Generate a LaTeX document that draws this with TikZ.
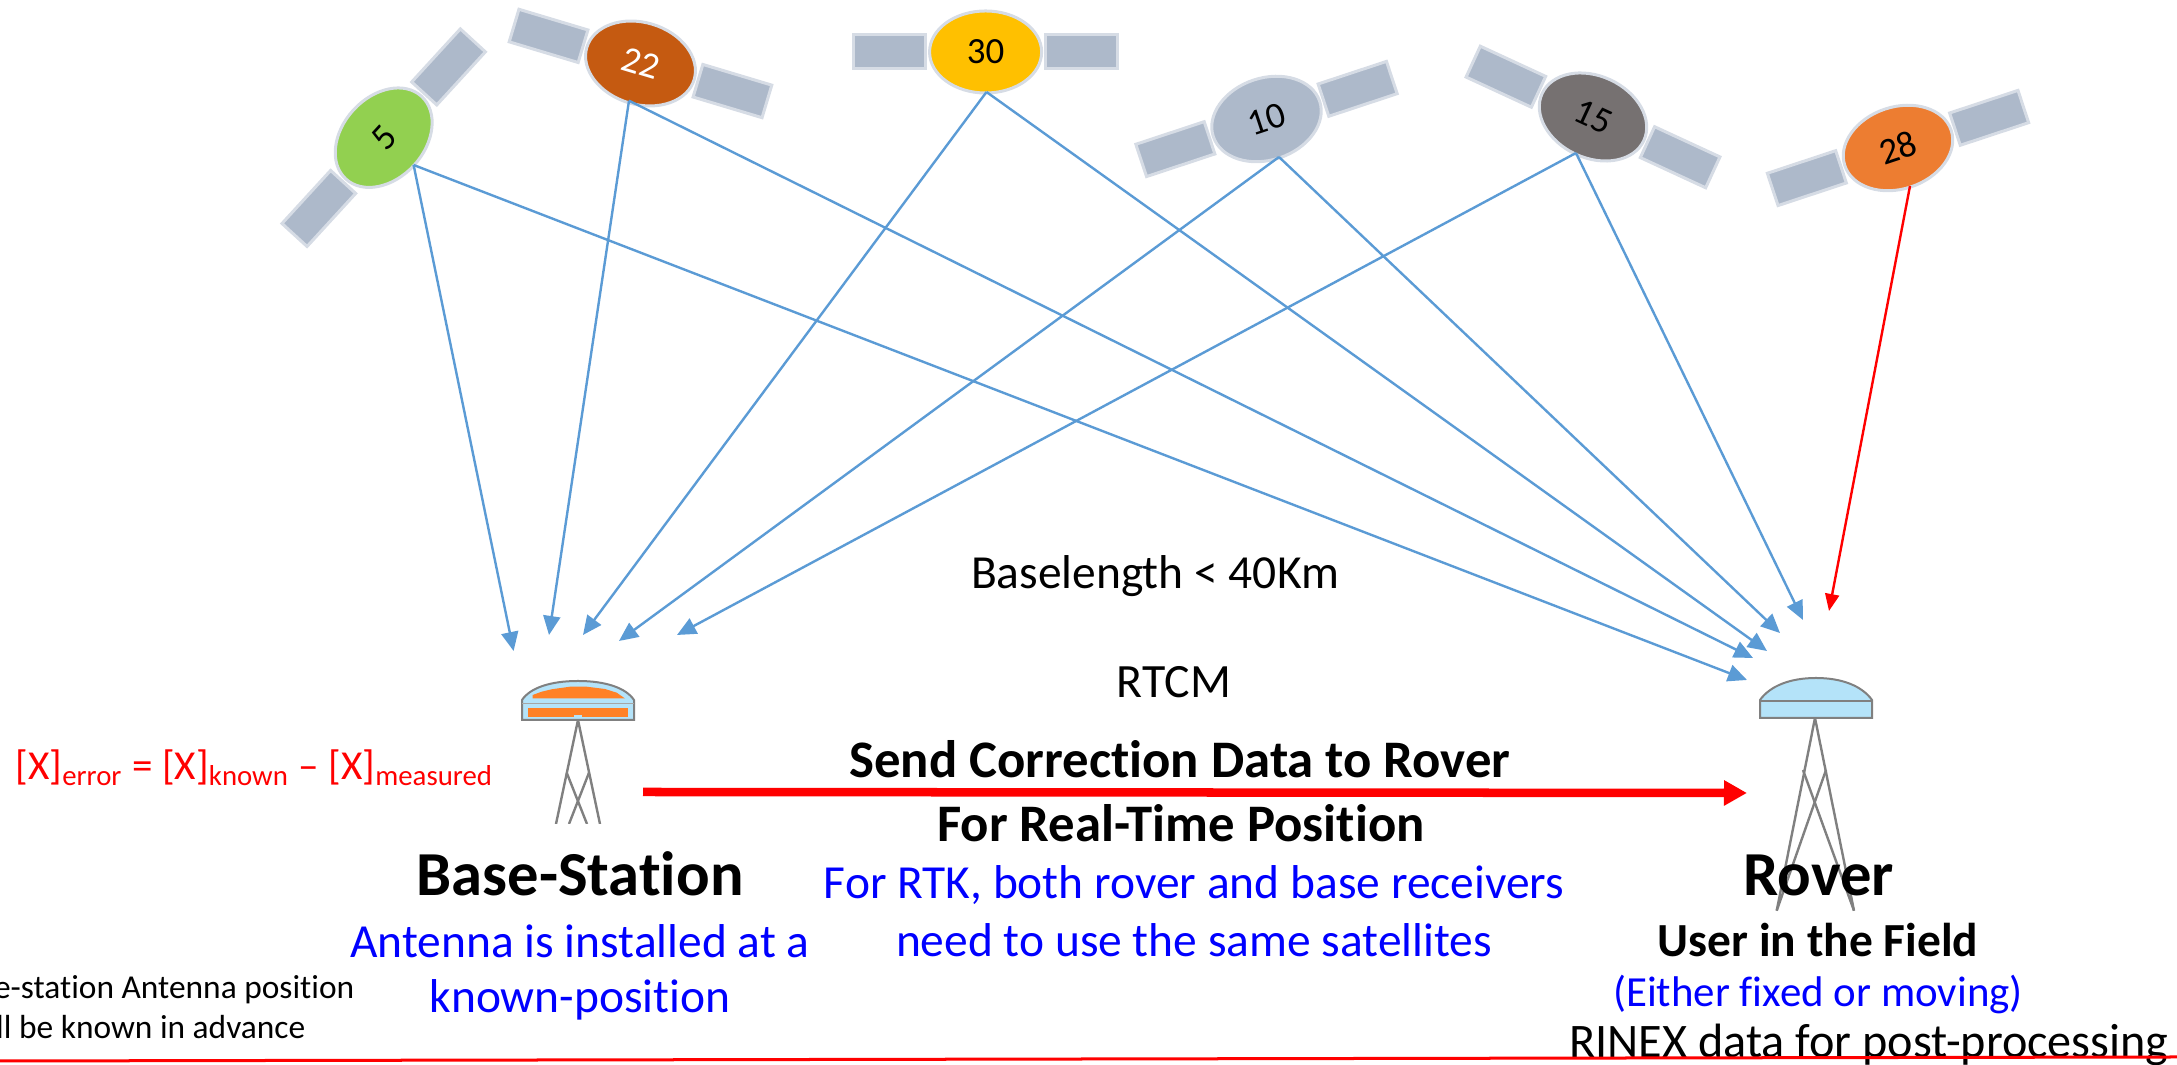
\documentclass[tikz,border=0pt]{standalone}
\usepackage{fontspec}
\setmainfont{Carlito}[Ligatures=NoCommon]
\usetikzlibrary{arrows.meta,shapes.geometric}
\definecolor{panelfill}{HTML}{ADB9CA}
\definecolor{paneledge}{HTML}{D6DCE5}
\definecolor{sigblue}{HTML}{5B9BD5}
\definecolor{domeblue}{HTML}{B4E3F9}
\definecolor{domeorange}{HTML}{FF8126}
\definecolor{legray}{HTML}{808080}
\definecolor{satgreen}{HTML}{92D050}
\definecolor{satrust}{HTML}{C55A11}
\definecolor{satgold}{HTML}{FFC000}
\definecolor{satgrey}{HTML}{767171}
\definecolor{satorange}{HTML}{ED7D31}
\tikzset{
  panel/.style={fill=panelfill,draw=paneledge,line width=.03cm},
  body/.style={ellipse,draw=paneledge,line width=.03cm,minimum width=1.12cm,minimum height=.82cm,inner sep=0pt,font=\fontsize{10.5}{12}\selectfont},
  sig/.style={sigblue,line width=.024cm,-{Triangle[length=.19cm,width=.17cm]}},
  redsig/.style={red,line width=.024cm,-{Triangle[length=.17cm,width=.14cm]}},
  senddata/.style={red,line width=.085cm,-{Triangle[length=.23cm,width=.24cm]}},
  leg/.style={legray,line width=.024cm},
  dome/.style={draw=legray,line width=.02cm,fill=domeblue},
  bigbold/.style={font=\fontsize{17.8}{20}\selectfont\bfseries},
  midbold/.style={font=\fontsize{15}{17}\selectfont\bfseries},
  bluetxt/.style={blue,font=\fontsize{13.5}{15}\selectfont},
  plain/.style={font=\fontsize{13.5}{15}\selectfont},
  small/.style={font=\fontsize{9.5}{11}\selectfont,inner sep=0pt},
}
\newcommand{\satellite}[7]{%
  \begin{scope}[shift={(#2,#3)},rotate=#4]
    \draw[panel] (-132,-17) rectangle (-60,17);
    \draw[panel] (60,-17) rectangle (132,17);
  \end{scope}
  \node[body,fill=#5,text=#7,rotate=#4] (#1) at (#2,#3) {#6};
}
\begin{document}
\begin{tikzpicture}[x=.01cm,y=-.01cm]
\useasboundingbox (0,0) rectangle (2177,1065);

% satellites
\satellite{s5}{383.7}{137.7}{47.5}{satgreen}{5}{black}
\satellite{s22}{640.5}{63.5}{-16.7}{satrust}{22}{white}
\satellite{s30}{985.6}{52}{0}{satgold}{30}{black}
\satellite{s10}{1266.5}{119}{18.3}{panelfill}{10}{black}
\satellite{s15}{1593}{117}{-24.8}{satgrey}{15}{black}
\satellite{s28}{1898}{148}{18.3}{satorange}{28}{black}

% connector ends
\coordinate (o5) at (413.6,165);
\coordinate (o22) at (629,100.7);
\coordinate (o30) at (986.5,92);
\coordinate (o10) at (1279,157);
\coordinate (o15) at (1576,153);
\coordinate (o28) at (1910,186);
\coordinate (b5) at (513.6,651);
\coordinate (b22) at (549,635);
\coordinate (b30) at (583,635);
\coordinate (b10) at (619,641);
\coordinate (b15) at (677,635);
\coordinate (r5) at (1747,680);
\coordinate (r22) at (1753,658);
\coordinate (r30) at (1767,651);
\coordinate (r10) at (1780,633);
\coordinate (r15) at (1803,620);
\coordinate (r28) at (1829,611);
\coordinate (sendA) at (643,792);
\coordinate (sendB) at (1747,793);
\coordinate (lineA) at (0,1061);
\coordinate (lineB) at (2177,1057);

\foreach \s in {5,22,30,10,15}{
  \draw[sig] (o\s) -- (b\s);
  \draw[sig] (o\s) -- (r\s);
}
\draw[redsig] (o28) -- (r28);

% base antenna
\begin{scope}
  \clip (500,670) rectangle (660,824);
  \foreach \a/\b in {578/556,578/600}{\draw[leg] (\a,720) -- (\b,824);}
  \draw[leg] (566.7,772.7) -- (587,824);
  \draw[leg] (589,772.7) -- (569,824);
\end{scope}
\draw[dome] (522,720) -- (522,700) .. controls (530,688) and (550,681) .. (578,681) .. controls (606,681) and (626,688) .. (634,700) -- (634,720) -- cycle;
\fill[domeorange] (532.7,698.5) -- (532.7,695) -- (541.7,691.7) -- (551.7,689.3) -- (570,686.7) -- (586.7,686.7) -- (605,689) -- (616.7,692.7) -- (625,698.5) -- cycle;
\fill[domeorange] (528,708) rectangle (628,717);
\fill[domeblue] (574,715) rectangle (582,718);
\draw[legray!70,line width=.01cm] (522,703.5) -- (634,703.5);

% rover antenna
\draw[leg] (1815,718) -- (1776.7,910.7);
\draw[leg] (1815,718) -- (1854,910.7);
\draw[leg] (1803,770) -- (1854,910.7);
\draw[leg] (1826,770) -- (1776.7,910.7);
\draw[dome] (1760,718) -- (1760,700) .. controls (1770,686) and (1790,678) .. (1816,678) .. controls (1842,678) and (1862,686) .. (1872,700) -- (1872,718) -- cycle;
\draw[legray,line width=.02cm] (1760,700.7) -- (1872,700.7);

% main arrow
\draw[senddata] (sendA) -- (sendB);

% texts
\node[plain] (tbase) at (1155,576) {Baselength < 40Km};
\node[font=\fontsize{13.6}{15}\selectfont] (trtcm) at (1174,682) {RTCM};
\node[midbold] (tsend) at (1180,759) {Send Correction Data to Rover};
\node[midbold] (tfor) at (1181,823) {For Real-Time Position};
\node[bluetxt] (trtk) at (1194,885) {For RTK, both rover and base receivers};
\node[bluetxt] (tneed) at (1194,940) {need to use the same satellites};
\node[bigbold] (tbs) at (580,874) {Base-Station};
\node[bluetxt] (tant) at (580,941) {Antenna is installed at a};
\node[bluetxt] (tknown) at (580,1000) {known-position};
\node[red,anchor=west,inner sep=0pt,font=\fontsize{11.7}{13}\selectfont] (terr) at (15,768) {[X]\textsubscript{error} = [X]\textsubscript{known} -- [X]\textsubscript{measured}};
\node[small,anchor=east] (tcut1) at (355,990) {se-station Antenna position};
\node[small,anchor=east] (tcut2) at (306,1027) {all be known in advance};
\node[bigbold] (trov) at (1819,875) {Rover};
\node[font=\fontsize{13.5}{15}\selectfont\bfseries] (tuser) at (1818,940) {User in the Field};
\node[blue,font=\fontsize{12.2}{14}\selectfont] (teither) at (1818,995) {(Either fixed or moving)};
\node[font=\fontsize{13.7}{15}\selectfont] (trinex) at (1869,1045) {RINEX data for post-processing};
\draw[red,line width=.03cm] (lineA) -- (lineB);
\end{tikzpicture}
\end{document}
